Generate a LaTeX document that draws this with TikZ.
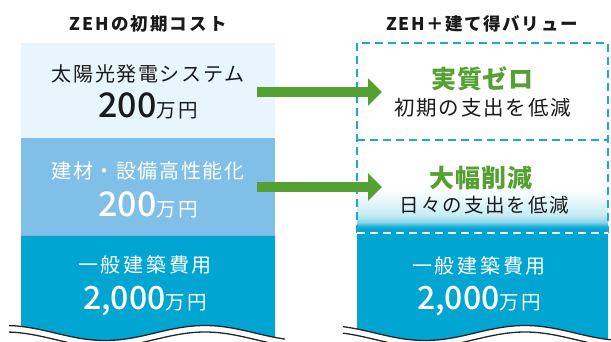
\documentclass[tikz,border=0pt]{standalone}
\usepackage{fontspec}
\setmainfont{Noto Sans CJK JP}
\newfontfamily\jpblack{Noto Sans CJK JP Black}
\newfontfamily\jpmed{Noto Sans CJK JP Medium}
\usetikzlibrary{arrows.meta}
\definecolor{boxA}{HTML}{E8F5FC}
\definecolor{boxB}{HTML}{80C0E8}
\definecolor{boxC}{HTML}{00A5D2}
\definecolor{grn}{HTML}{55A033}
\definecolor{dsh}{HTML}{1AA7D9}
\definecolor{txt}{HTML}{1A1A1A}
\pgfdeclareverticalshading{fadeblue}{100bp}{color(0bp)=(boxC); color(27.2bp)=(boxC); color(28.8bp)=(boxC!85); color(30.9bp)=(boxC!45); color(34.7bp)=(boxC!22); color(42.7bp)=(boxC!9); color(48.5bp)=(white); color(100bp)=(white)}
\newcommand{\fs}[2]{\fontsize{#1}{#1}\selectfont\addfontfeatures{LetterSpace=#2}}
\begin{document}
\begin{tikzpicture}[x=1pt,y=-1pt,
  boxnode/.style={inner sep=0, outer sep=0, anchor=north west, draw=none},
  lbl/.style={inner sep=0, outer sep=0},
  ttl/.style={lbl, font=\jpblack\fs{17.5}{12}, text=txt},
  greenttl/.style={lbl, font=\jpblack\fs{25}{3}, text=grn},
  wave/.style={draw=black!85, line width=1.3pt},
  dline/.style={dsh, line width=2.2pt, dash pattern=on 8pt off 5pt},
  wline/.style={white, line width=2.2pt, dash pattern=on 8pt off 5pt},
  bigarrow/.style={grn, line width=10pt, -{Triangle[width=27pt,length=14pt]}}]
\clip (0,0) rectangle (611,342);
\fill[white] (0,0) rectangle (611,342);
% titles
\node[ttl] (t1) at (148,24) {ZEHの初期コスト};
\node[ttl, font=\jpblack\fs{17.5}{9}] (t2) at (482,24) {ZEH＋建て得バリュー};
% left column
\node[boxnode, fill=boxA, minimum width=254pt, minimum height=95pt] (lb1) at (21,43) {};
\node[boxnode, fill=boxB, minimum width=254pt, minimum height=98pt] (lb2) at (21,138) {};
\fill[boxC] (21,236) -- (275,236) -- plot[domain=275:21, samples=60] (\x,{333-7.5*cos(1.8*(\x-205))}) -- cycle;
\coordinate (lb3) at (148,280);
\draw[wave] plot[domain=9:285, samples=80] (\x,{333-7.5*cos(1.8*(\x-205))});
\draw[wave] plot[domain=9:285, samples=80] (\x,{339.5-7.5*cos(1.8*(\x-205))});
% right column
\shade[shading=fadeblue] (357,140) rectangle (608,233);
\fill[boxC] (357,233) -- (608,233) -- plot[domain=608:357, samples=60] (\x,{333-7.5*cos(1.8*(\x-525))}) -- cycle;
\draw[wave] plot[domain=343:615, samples=80] (\x,{333-7.5*cos(1.8*(\x-525))});
\draw[wave] plot[domain=343:615, samples=80] (\x,{339.5-7.5*cos(1.8*(\x-525))});
\coordinate (rtl) at (357,43);
\coordinate (rtr) at (608,43);
\coordinate (rml) at (357,140);
\coordinate (rmr) at (608,140);
\coordinate (rbl) at (357,233);
\coordinate (rbr) at (608,233);
\draw[dline] (rbl) -- (rtl) -- (rtr) -- (rbr);
\draw[dline] (rml) -- (rmr);
\draw[wline] (rbl) -- (rbr);
% texts left
\node[lbl, text=txt, font=\fs{20}{8}] (l1a) at (148,73.5) {太陽光発電システム};
\node[lbl, text=txt, anchor=base] (l1b) at (148,118) {{\jpmed\fs{34}{0}200}{\fs{19.5}{12}万円}};
\node[lbl, text=white, font=\fs{20}{8}] (l2a) at (148,170.5) {建材・設備高性能化};
\node[lbl, text=white, anchor=base] (l2b) at (148,216) {{\jpmed\fs{34}{0}200}{\fs{19.5}{12}万円}};
\node[lbl, text=white, font=\fs{20}{14}] (l3a) at (145,265) {一般建築費用};
\node[lbl, text=white, anchor=base] (l3b) at (145,309) {{\jpmed\fs{32}{0}2,000}{\fs{19.5}{12}万円}};
% texts right
\node[greenttl] (r1a) at (482.5,79) {実質ゼロ};
\node[lbl, text=txt, font=\fs{20.5}{9}] (r1b) at (482.5,107.5) {初期の支出を低減};
\node[greenttl] (r2a) at (481,178) {大幅削減};
\node[lbl, text=txt, font=\fs{19.5}{10}] (r2b) at (484.5,205) {日々の支出を低減};
\node[lbl, text=white, font=\fs{20}{14}] (r3a) at (479,266) {一般建築費用};
\node[lbl, text=white, anchor=base] (r3b) at (479,309) {{\jpmed\fs{32}{0}2,000}{\fs{19.5}{12}万円}};
% arrows
\coordinate (a1s) at (257,92);
\coordinate (a1e) at (382,92);
\coordinate (a2s) at (257,187);
\coordinate (a2e) at (382,187);
\draw[bigarrow] (a1s) -- (a1e);
\draw[bigarrow] (a2s) -- (a2e);
\end{tikzpicture}
\end{document}
